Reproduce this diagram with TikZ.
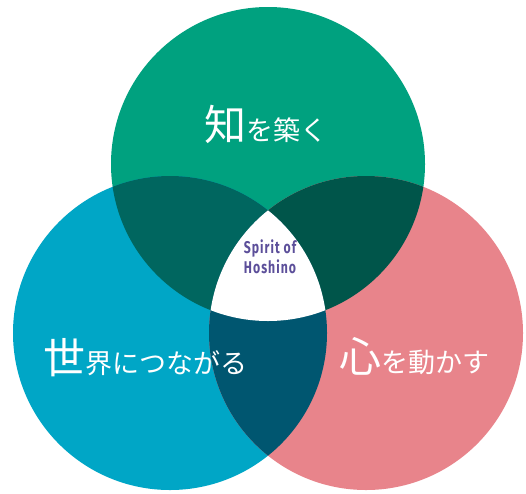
\documentclass[tikz,border=0pt]{standalone}
\usepackage{fontspec}
\usepackage{tikz}
\usetikzlibrary{positioning}
\newfontfamily\jpfont{Noto Sans CJK JP}
\newfontfamily\spiritfont[FakeStretch=0.72,LetterSpace=6]{Fira Sans}
\newcommand{\bigkanji}{\jpfont\fontsize{42}{42}\selectfont}
\newcommand{\smallkana}{\jpfont\fontsize{27}{27}\selectfont}
\definecolor{chigreen}{HTML}{00A17F}
\definecolor{sekaiblue}{HTML}{00A6C6}
\definecolor{kokoropink}{HTML}{E8848B}
\definecolor{chisekai}{HTML}{00665F}
\definecolor{chikokoro}{HTML}{00554A}
\definecolor{sekaikokoro}{HTML}{005670}
\definecolor{spiritpurple}{HTML}{5C4F9A}

\begin{document}
\begin{tikzpicture}[x=1pt,y=-1pt]
\tikzstyle{every node}+=[inner sep=0pt]
\tikzstyle{label}=[anchor=base, text=white]
\useasboundingbox (0,0) rectangle (526,493);
\coordinate (chi) at (268,164);
\coordinate (sekai) at (170,333);
\coordinate (kokoro) at (366,333);
% the three circles
\fill [chigreen] (chi) circle (157pt);
\fill [sekaiblue] (sekai) circle (157pt);
\fill [kokoropink] (kokoro) circle (157pt);
% overlaps of two
\begin{scope}
\clip (chi) circle (157pt);
\fill [chisekai] (sekai) circle (157pt);
\end{scope}
\begin{scope}
\clip (chi) circle (157pt);
\fill [chikokoro] (kokoro) circle (157pt);
\end{scope}
\begin{scope}
\clip (sekai) circle (157pt);
\fill [sekaikokoro] (kokoro) circle (157pt);
\end{scope}
% middle
\begin{scope}
\clip (chi) circle (157pt);
\clip (sekai) circle (157pt);
\fill [white] (kokoro) circle (157pt);
\end{scope}
\node (chitext) [label] at (266,140) {{\bigkanji 知}{\smallkana を築く}};
\node (sekaitext) [label] at (145,373) {{\bigkanji 世}{\smallkana 界につながる}};
\node (kokorotext) [label] at (414,372) {{\bigkanji 心}{\smallkana を動かす}};
\node (spirit) [anchor=base, text=spiritpurple, align=center, font=\spiritfont\bfseries\fontsize{17}{20}\selectfont] at (270,273) {Spirit of\\Hoshino};
\end{tikzpicture}
\end{document}
